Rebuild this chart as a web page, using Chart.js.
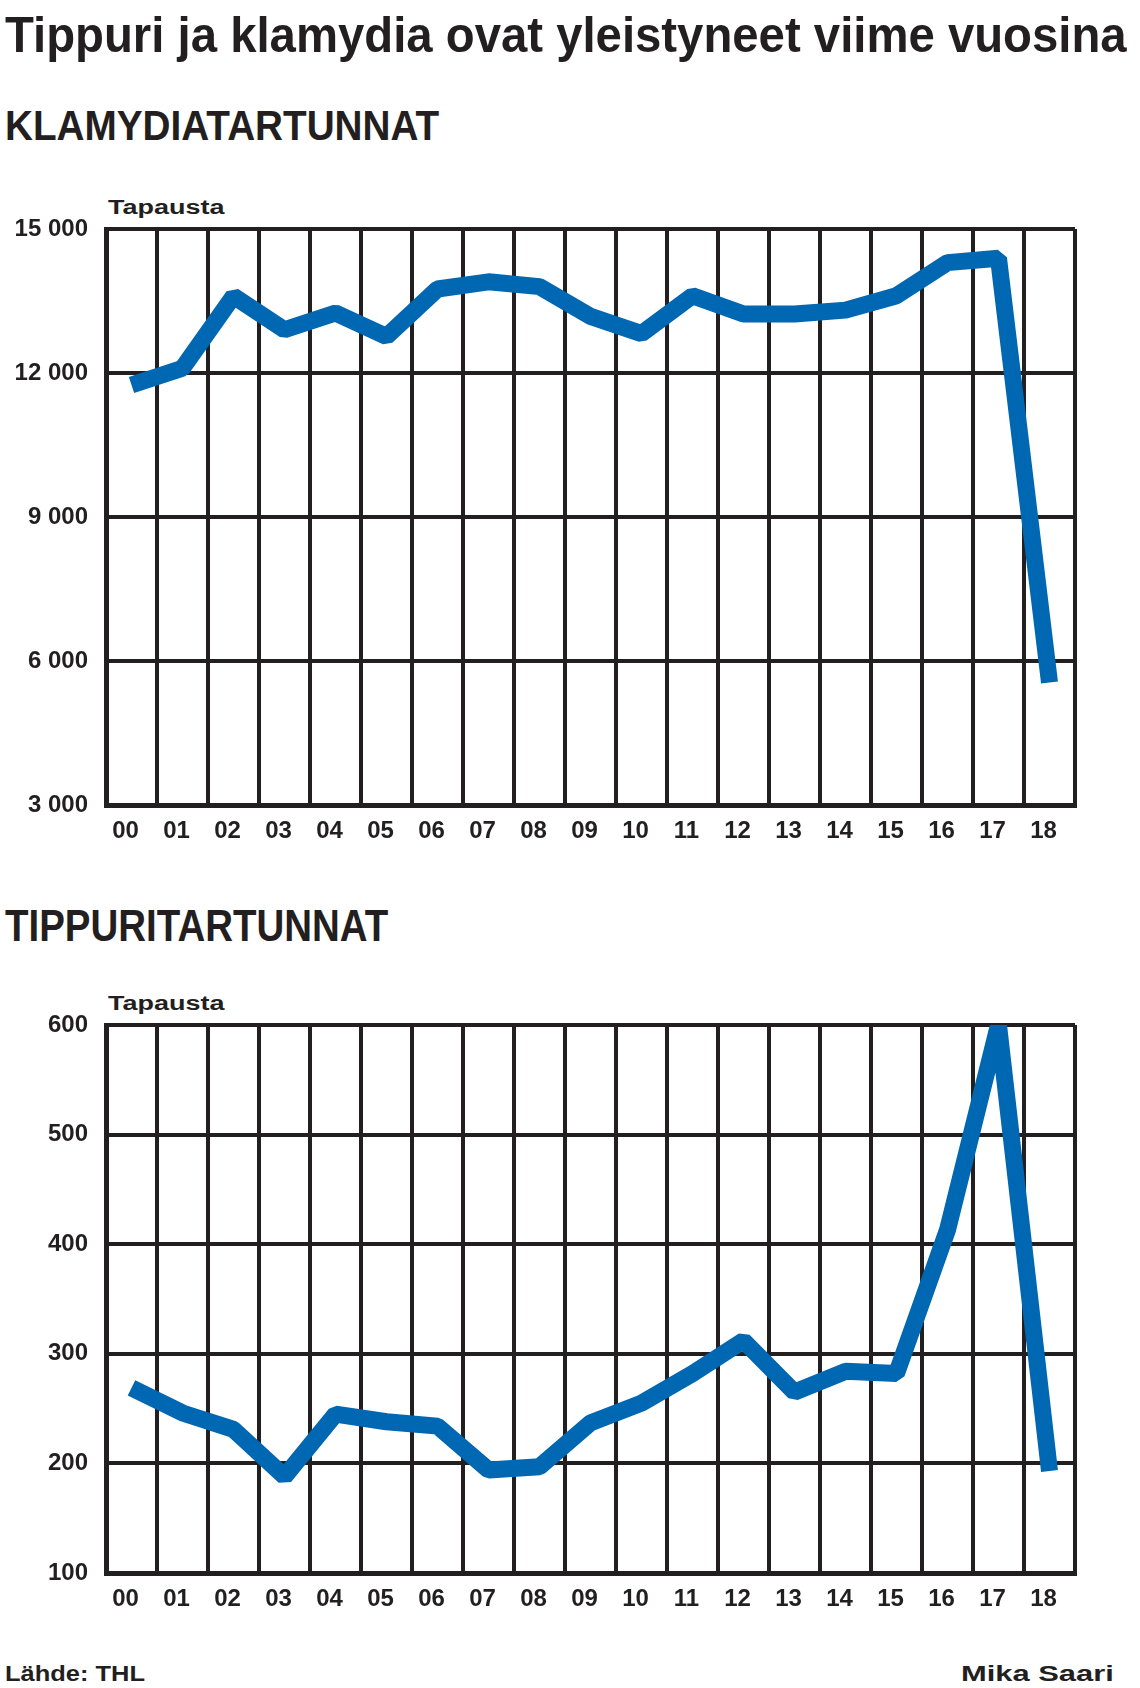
<!DOCTYPE html>
<html>
<head>
<meta charset="utf-8">
<script src="https://cdn.jsdelivr.net/npm/chart.js@4.4.0/dist/chart.umd.min.js"></script>
<style>
  html, body { margin: 0; padding: 0; background: #fff; }
  body { width: 1140px; height: 1688px; position: relative; overflow: hidden;
         font-family: "Liberation Sans", Arial, sans-serif; color: #231f20; }
  .txt { position: absolute; white-space: nowrap; line-height: 1; transform-origin: left top; display: inline-block; }
  .cv { position: absolute; left: 0; width: 1140px; }
</style>
</head>
<body>

<div class="txt" id="title" style="left:5px; top:10px; font-size:50px; font-weight:bold;">Tippuri ja klamydia ovat yleistyneet viime vuosina</div>
<div class="txt" id="sub1" style="left:5px; top:105px; font-size:42px; font-weight:bold;">KLAMYDIATARTUNNAT</div>
<div class="txt" id="unit1" style="left:108px; top:197px; font-size:20px; font-weight:bold;">Tapausta</div>
<div class="cv" style="top:190px; height:670px;"><canvas id="chlamydia"></canvas></div>

<div class="txt" id="sub2" style="left:5px; top:904px; font-size:44px; font-weight:bold;">TIPPURITARTUNNAT</div>
<div class="txt" id="unit2" style="left:108px; top:993px; font-size:20px; font-weight:bold;">Tapausta</div>
<div class="cv" style="top:985px; height:643px;"><canvas id="gonorrhea"></canvas></div>

<div class="txt" id="source" style="left:5px; top:1663px; font-size:22px; font-weight:bold;">Lähde: THL</div>
<div class="txt" id="credit" style="left:961px; top:1663px; font-size:22px; font-weight:bold;">Mika Saari</div>

<script>
// vuodet 2000-2018
const years = ['00', '01', '02', '03', '04', '05', '06', '07', '08', '09',
               '10', '11', '12', '13', '14', '15', '16', '17', '18'];

// klamydiatartunnat
const chlamydiaCases = [11750, 12100, 13600, 12900, 13250, 12760, 13750, 13900, 13800, 13180,
                        12820, 13610, 13230, 13230, 13310, 13610, 14300, 14390, 5550];

// tippuritartunnat
const gonorrheaCases = [269, 246, 231, 188, 245, 238, 234, 194, 197, 237,
                        255, 282, 312, 265, 284, 282, 413, 600, 193];

const chlamydiaTicks = [3000, 6000, 9000, 12000, 15000];
const gonorrheaTicks = [100, 200, 300, 400, 500, 600];

const ink = '#231f20';
const blue = '#0067b2';

// venytetään teksti oikeaan leveyteen
const fit = (id, w) => {
  const el = document.getElementById(id);
  el.style.transform = 'scaleX(' + (w / el.offsetWidth) + ')';
};
fit('title', 1122);
fit('sub1', 434);
fit('sub2', 383);
fit('unit1', 116);
fit('unit2', 116);
fit('source', 140);
fit('credit', 153);

const spaced = v => String(v).replace(/\B(?=(\d{3})+(?!\d))/g, ' ');

const makeChart = (id, values, ticks, topPad) => {
  const ctx = document.getElementById(id).getContext('2d');
  return new Chart(ctx, {
    type: 'line',
    data: {
      labels: years,
      datasets: [{
        data: values,
        borderColor: blue,
        borderWidth: 17,
        borderJoinStyle: 'bevel',
        borderCapStyle: 'butt',
        pointRadius: 0,
        tension: 0,
        fill: false
      }]
    },
    options: {
      responsive: true,
      maintainAspectRatio: false,
      animation: false,
      events: [],
      layout: { padding: { top: topPad, right: 65, left: 0, bottom: 0 }, autoPadding: false },
      plugins: { legend: { display: false }, tooltip: { enabled: false } },
      scales: {
        x: {
          type: 'category',
          offset: true,
          grid: { offset: true, color: ink, lineWidth: 4, drawTicks: false },
          border: { display: true, color: ink, width: 5 },
          ticks: {
            color: ink,
            font: { family: 'Liberation Sans', size: 24, weight: 'bold' },
            padding: 12,
            labelOffset: -6,
            maxRotation: 0,
            autoSkip: false
          },
          afterFit: s => { s.height = 55; }
        },
        y: {
          min: ticks[0],
          max: ticks[ticks.length - 1],
          afterBuildTicks: s => { s.ticks = ticks.map(v => ({ value: v })); },
          grid: { color: ink, lineWidth: 4, drawTicks: false },
          border: { display: true, color: ink, width: 5 },
          ticks: {
            color: ink,
            font: { family: 'Liberation Sans', size: 24, weight: 'bold' },
            padding: 18,
            callback: v => spaced(v)
          },
          afterFit: s => { s.width = 106; }
        }
      }
    }
  });
};

makeChart('chlamydia', chlamydiaCases, chlamydiaTicks, 39);
makeChart('gonorrhea', gonorrheaCases, gonorrheaTicks, 40);
</script>
</body>
</html>
